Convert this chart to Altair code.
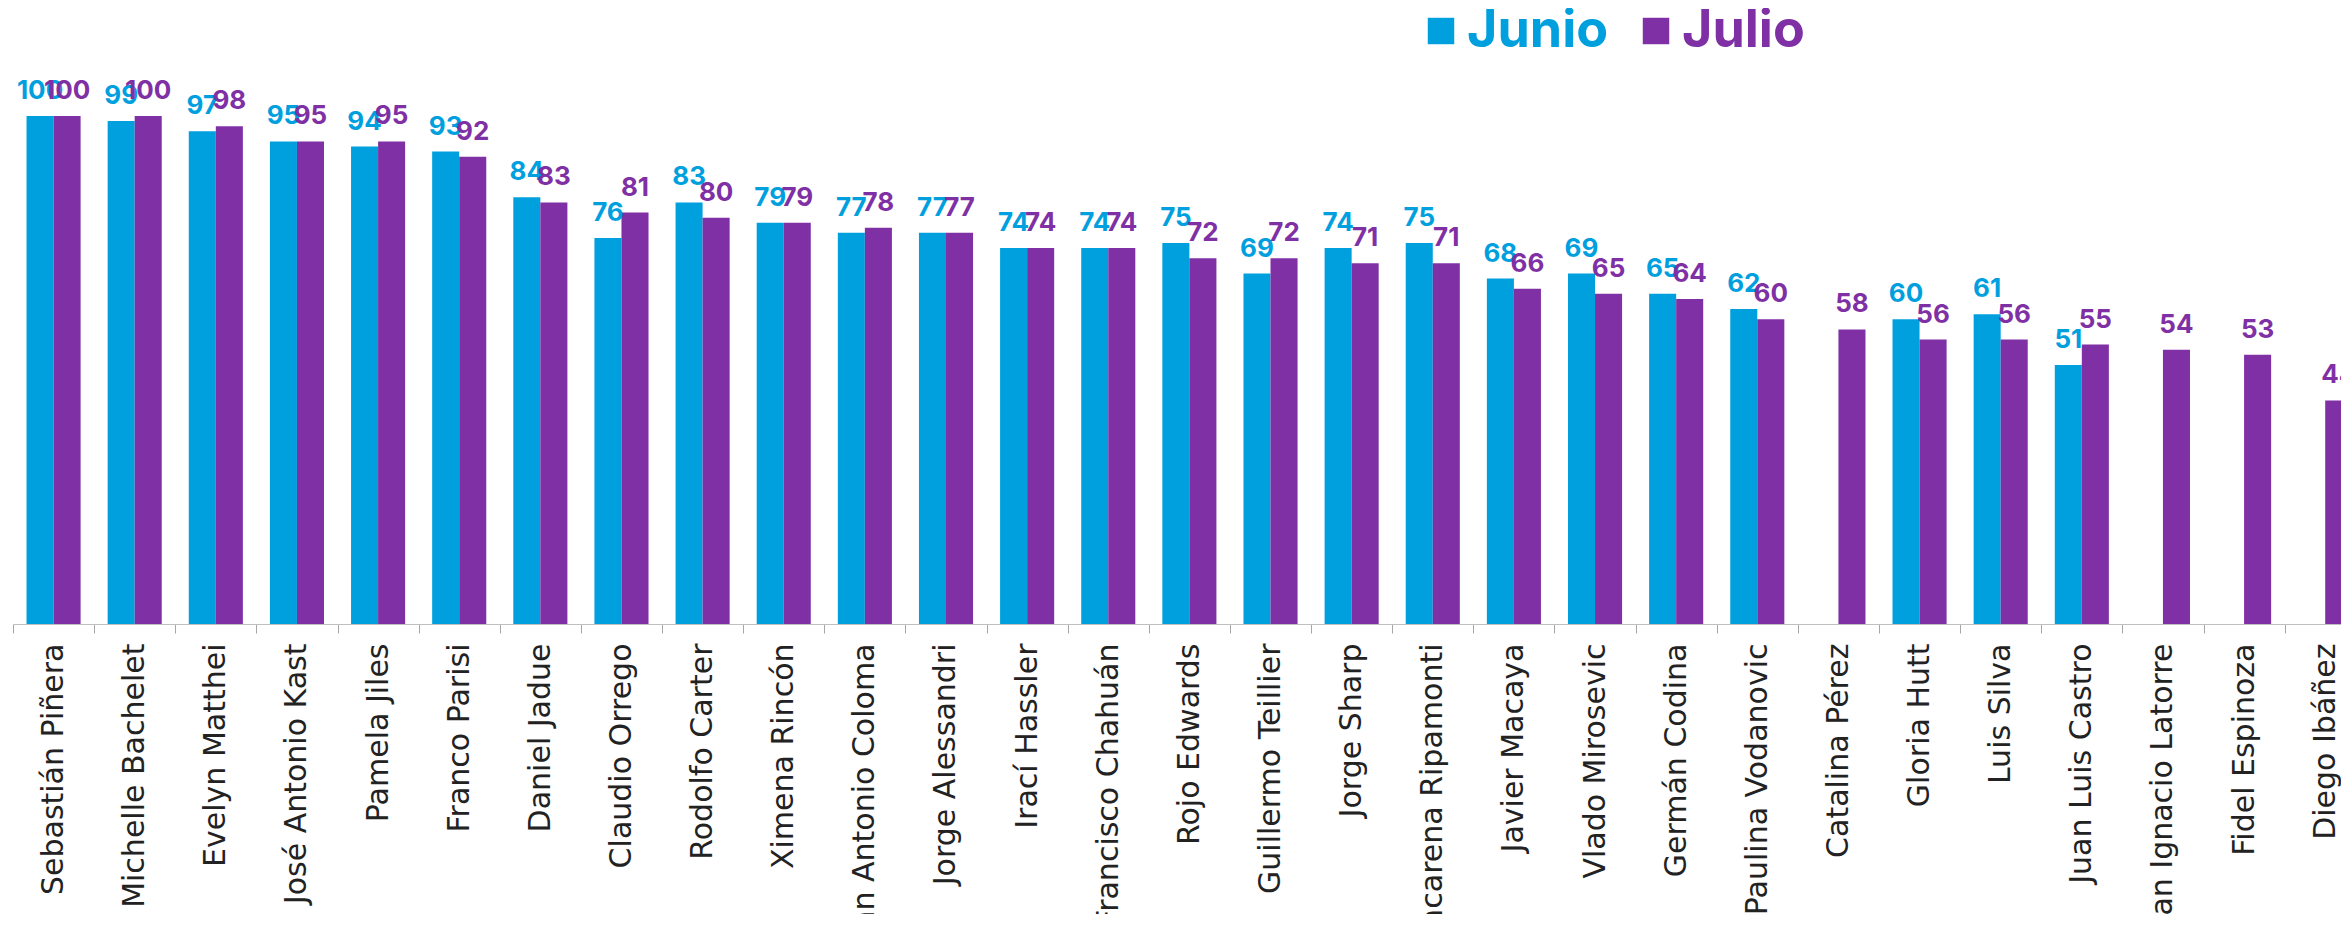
import altair as alt
import pandas as pd

candidatos = [
    "Sebastián Piñera", "Michelle Bachelet", "Evelyn Matthei", "José Antonio Kast",
    "Pamela Jiles", "Franco Parisi", "Daniel Jadue", "Claudio Orrego", "Rodolfo Carter",
    "Ximena Rincón", "Juan Antonio Coloma", "Jorge Alessandri", "Irací Hassler",
    "Francisco Chahuán", "Rojo Edwards", "Guillermo Teillier", "Jorge Sharp",
    "Macarena Ripamonti", "Javier Macaya", "Vlado Mirosevic", "Germán Codina",
    "Paulina Vodanovic", "Catalina Pérez", "Gloria Hutt", "Luis Silva",
    "Juan Luis Castro", "Juan Ignacio Latorre", "Fidel Espinoza", "Diego Ibáñez",
]
junio = [100, 99, 97, 95, 94, 93, 84, 76, 83, 79, 77, 77, 74, 74, 75, 69, 74, 75,
         68, 69, 65, 62, None, 60, 61, 51, None, None, None]
julio = [100, 100, 98, 95, 95, 92, 83, 81, 80, 79, 78, 77, 74, 74, 72, 72, 71, 71,
         66, 65, 64, 60, 58, 56, 56, 55, 54, 53, 44]
series = ["Junio", "Julio"]
colores = ["#00A0DF", "#7F30A5"]

rows = []
for c, a, b in zip(candidatos, junio, julio):
    if a is not None:
        rows.append({"Candidato": c, "Mes": "Junio", "Valor": a})
    if b is not None:
        rows.append({"Candidato": c, "Mes": "Julio", "Valor": b})
df = pd.DataFrame(rows)

step = 81.13
x_enc = alt.X(
    "Candidato:N",
    sort=candidatos,
    scale=alt.Scale(range=[0, step * len(candidatos)], paddingInner=0, paddingOuter=0),
    axis=alt.Axis(
        title=None,
        labelAngle=-90,
        labelFont="DejaVu Sans",
        labelFontSize=30,
        labelColor="#222222",
        labelPadding=10,
        labelLimit=700,
        tickBand="extent",
        tickSize=9,
        tickColor="#a6a6a6",
        domainColor="#bfbfbf",
        grid=False,
    ),
)
xoff = alt.XOffset("Mes:N", sort=series,
                   scale=alt.Scale(domain=series, paddingOuter=0.5, paddingInner=0))
y_enc = alt.Y("Valor:Q", scale=alt.Scale(domain=[0, 119.3], nice=False, zero=True), axis=None)
label_color_expr = f"datum.value == '{series[0]}' ? '{colores[0]}' : '{colores[1]}'"
color_enc = alt.Color(
    "Mes:N",
    scale=alt.Scale(domain=series, range=colores),
    legend=alt.Legend(
        title=None,
        orient="none",
        legendX=1402,
        legendY=-13,
        direction="horizontal",
        symbolType="square",
        symbolSize=700,
        symbolStrokeWidth=0,
        labelFont="Inter",
        labelFontWeight="bold",
        labelFontSize=52,
        labelOffset=0,
        labelLimit=400,
        labelColor=alt.ExprRef(label_color_expr),
        columnPadding=21,
        padding=0,
    ),
)

bars = alt.Chart(df).mark_bar().encode(x=x_enc, xOffset=xoff, y=y_enc, color=color_enc)
labels = alt.Chart(df).mark_text(
    font="Inter", fontWeight="bold", fontSize=26,
    baseline="alphabetic", align="center", dy=-17,
).encode(
    x=x_enc, xOffset=xoff, y=y_enc,
    fill=alt.Fill("Mes:N", scale=alt.Scale(domain=series, range=colores), legend=None),
    text=alt.Text("Valor:Q", format="d"),
)

chart = (
    alt.layer(bars, labels)
    .properties(
        width=2328,
        height=606,
        autosize=alt.AutoSizeParams(type="none"),
        padding={"left": 5, "top": 10, "right": 0, "bottom": 290},
    )
    .configure_view(stroke=None)
)

chart.save("out.html", embed_options={"renderer": "svg", "actions": False})
